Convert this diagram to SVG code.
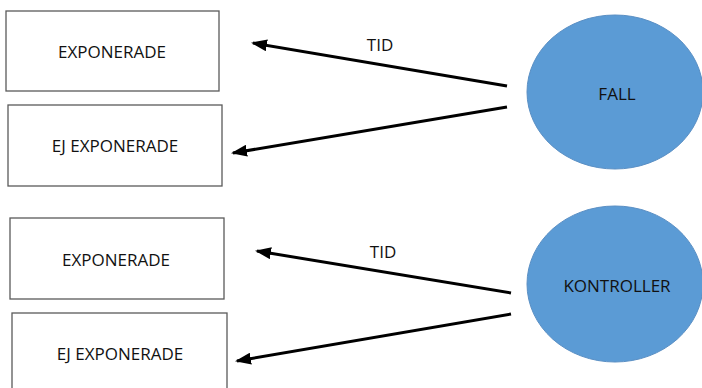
<svg xmlns="http://www.w3.org/2000/svg" width="702" height="388" viewBox="0 0 702 388">
<style>
.box{fill:#fff;stroke:#5a5a5a;stroke-width:1.3}
.ell{fill:#5b9bd5;stroke:#5a8fc4;stroke-width:1}
.t{font-family:"Open Sans","Liberation Sans",sans-serif;font-size:17px;fill:#111;text-anchor:middle;dominant-baseline:central}
.arr{stroke:#000;stroke-width:3;fill:none;marker-end:url(#ah)}
</style>
<defs>
<marker id="ah" markerUnits="userSpaceOnUse" markerWidth="16" markerHeight="12" refX="14" refY="6" orient="auto">
<path d="M0,0 L16,6 L0,12 Z" fill="#000"/>
</marker>
</defs>
<rect width="702" height="388" fill="#fff"/>
<g id="exp1"><rect class="box" x="6" y="11" width="213" height="80"/><text class="t" x="112" y="51">EXPONERADE</text></g>
<g id="ejexp1"><rect class="box" x="8" y="105" width="214" height="81"/><text class="t" x="115" y="145">EJ EXPONERADE</text></g>
<g id="exp2"><rect class="box" x="10" y="218" width="214" height="81"/><text class="t" x="116" y="259">EXPONERADE</text></g>
<g id="ejexp2"><rect class="box" x="12" y="313" width="215" height="80"/><text class="t" x="120" y="353">EJ EXPONERADE</text></g>
<g id="fall"><ellipse class="ell" cx="615" cy="92" rx="88" ry="77"/><text class="t" x="617" y="93">FALL</text></g>
<g id="kontroller"><ellipse class="ell" cx="615" cy="284" rx="88" ry="78"/><text class="t" x="617" y="285">KONTROLLER</text></g>
<g id="connectors">
<line class="arr" x1="507" y1="86" x2="253" y2="43"/>
<line class="arr" x1="507" y1="107" x2="233" y2="153"/>
<line class="arr" x1="511" y1="293" x2="257" y2="251"/>
<line class="arr" x1="511" y1="314" x2="237" y2="361"/>
<text class="t" x="380" y="44">TID</text>
<text class="t" x="383" y="251">TID</text>
</g>
</svg>
